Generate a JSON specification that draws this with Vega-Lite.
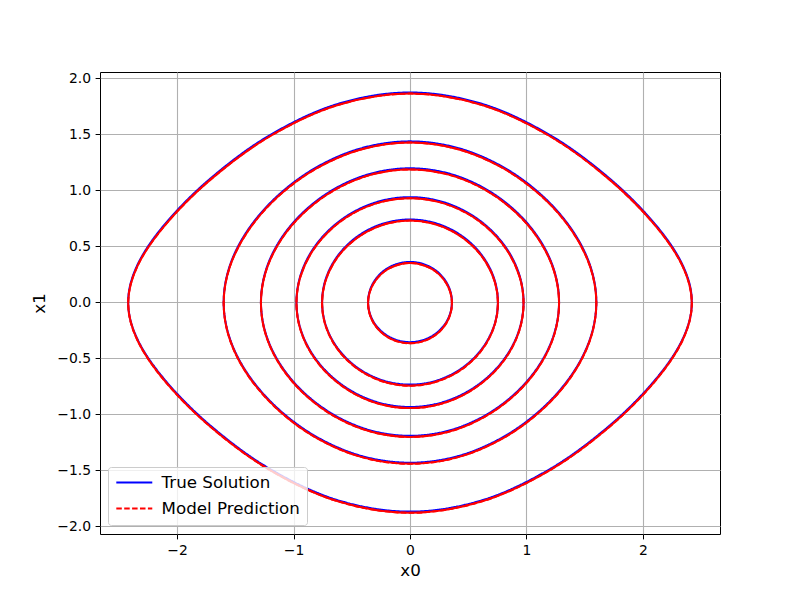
{
  "$schema": "https://vega.github.io/schema/vega-lite/v6.json",
  "width": 620,
  "height": 462,
  "autosize": {"type": "none"},
  "padding": {"left": 100, "top": 72, "right": 80, "bottom": 66},
  "background": "white",
  "config": {
    "font": "DejaVu Sans",
    "view": {"stroke": "black", "strokeWidth": 1},
    "axis": {
      "domain": false,
      "grid": true,
      "gridColor": "#b0b0b0",
      "gridWidth": 1.1,
      "tickColor": "black",
      "tickSize": 4.9,
      "tickWidth": 1,
      "labelColor": "black",
      "labelFontSize": 13.9,
      "labelFont": "DejaVu Sans",
      "labelPadding": 4.5,
      "titleFont": "DejaVu Sans",
      "titleFontSize": 16.7,
      "titleFontWeight": "normal",
      "titleColor": "black"
    }
  },
  "data": {
    "values": [
      {"o":1,"i":0,"x0":0.36,"t":0,"p":-0.01},
      {"o":1,"i":1,"x0":0.3477,"t":0.0922,"p":0.0822},
      {"o":1,"i":2,"x0":0.3118,"t":0.1783,"p":0.1683},
      {"o":1,"i":3,"x0":0.2546,"t":0.2525,"p":0.2425},
      {"o":1,"i":4,"x0":0.18,"t":0.3097,"p":0.2997},
      {"o":1,"i":5,"x0":0.0932,"t":0.3457,"p":0.3357},
      {"o":1,"i":6,"x0":0,"t":0.3581,"p":0.3481},
      {"o":1,"i":7,"x0":-0.0932,"t":0.3457,"p":0.3357},
      {"o":1,"i":8,"x0":-0.18,"t":0.3097,"p":0.2997},
      {"o":1,"i":9,"x0":-0.2546,"t":0.2525,"p":0.2425},
      {"o":1,"i":10,"x0":-0.3118,"t":0.1783,"p":0.1683},
      {"o":1,"i":11,"x0":-0.3477,"t":0.0922,"p":0.0822},
      {"o":1,"i":12,"x0":-0.36,"t":0,"p":-0.01},
      {"o":1,"i":13,"x0":-0.3477,"t":-0.0922,"p":-0.1022},
      {"o":1,"i":14,"x0":-0.3118,"t":-0.1783,"p":-0.1883},
      {"o":1,"i":15,"x0":-0.2546,"t":-0.2525,"p":-0.2625},
      {"o":1,"i":16,"x0":-0.18,"t":-0.3097,"p":-0.3197},
      {"o":1,"i":17,"x0":-0.0932,"t":-0.3457,"p":-0.3557},
      {"o":1,"i":18,"x0":0,"t":-0.3581,"p":-0.3681},
      {"o":1,"i":19,"x0":0.0932,"t":-0.3457,"p":-0.3557},
      {"o":1,"i":20,"x0":0.18,"t":-0.3097,"p":-0.3197},
      {"o":1,"i":21,"x0":0.2546,"t":-0.2525,"p":-0.2625},
      {"o":1,"i":22,"x0":0.3118,"t":-0.1783,"p":-0.1883},
      {"o":1,"i":23,"x0":0.3477,"t":-0.0922,"p":-0.1022},

      {"o":2,"i":0,"x0":0.755,"t":0,"p":-0.01},
      {"o":2,"i":1,"x0":0.7293,"t":0.1865,"p":0.1765},
      {"o":2,"i":2,"x0":0.6538,"t":0.3619,"p":0.3519},
      {"o":2,"i":3,"x0":0.5339,"t":0.5149,"p":0.5049},
      {"o":2,"i":4,"x0":0.3775,"t":0.6345,"p":0.6245},
      {"o":2,"i":5,"x0":0.1954,"t":0.7109,"p":0.7009},
      {"o":2,"i":6,"x0":0,"t":0.7372,"p":0.7272},
      {"o":2,"i":7,"x0":-0.1954,"t":0.7109,"p":0.7009},
      {"o":2,"i":8,"x0":-0.3775,"t":0.6345,"p":0.6245},
      {"o":2,"i":9,"x0":-0.5339,"t":0.5149,"p":0.5049},
      {"o":2,"i":10,"x0":-0.6538,"t":0.3619,"p":0.3519},
      {"o":2,"i":11,"x0":-0.7293,"t":0.1865,"p":0.1765},
      {"o":2,"i":12,"x0":-0.755,"t":0,"p":-0.01},
      {"o":2,"i":13,"x0":-0.7293,"t":-0.1865,"p":-0.1965},
      {"o":2,"i":14,"x0":-0.6538,"t":-0.3619,"p":-0.3719},
      {"o":2,"i":15,"x0":-0.5339,"t":-0.5149,"p":-0.5249},
      {"o":2,"i":16,"x0":-0.3775,"t":-0.6345,"p":-0.6445},
      {"o":2,"i":17,"x0":-0.1954,"t":-0.7109,"p":-0.7209},
      {"o":2,"i":18,"x0":0,"t":-0.7372,"p":-0.7472},
      {"o":2,"i":19,"x0":0.1954,"t":-0.7109,"p":-0.7209},
      {"o":2,"i":20,"x0":0.3775,"t":-0.6345,"p":-0.6445},
      {"o":2,"i":21,"x0":0.5339,"t":-0.5149,"p":-0.5249},
      {"o":2,"i":22,"x0":0.6538,"t":-0.3619,"p":-0.3719},
      {"o":2,"i":23,"x0":0.7293,"t":-0.1865,"p":-0.1965},

      {"o":3,"i":0,"x0":0.975,"t":0,"p":-0.01},
      {"o":3,"i":1,"x0":0.9418,"t":0.2333,"p":0.2233},
      {"o":3,"i":2,"x0":0.8444,"t":0.454,"p":0.444},
      {"o":3,"i":3,"x0":0.6894,"t":0.6488,"p":0.6388},
      {"o":3,"i":4,"x0":0.4875,"t":0.8029,"p":0.7929},
      {"o":3,"i":5,"x0":0.2523,"t":0.9024,"p":0.8924},
      {"o":3,"i":6,"x0":0,"t":0.9368,"p":0.9268},
      {"o":3,"i":7,"x0":-0.2523,"t":0.9024,"p":0.8924},
      {"o":3,"i":8,"x0":-0.4875,"t":0.8029,"p":0.7929},
      {"o":3,"i":9,"x0":-0.6894,"t":0.6488,"p":0.6388},
      {"o":3,"i":10,"x0":-0.8444,"t":0.454,"p":0.444},
      {"o":3,"i":11,"x0":-0.9418,"t":0.2333,"p":0.2233},
      {"o":3,"i":12,"x0":-0.975,"t":0,"p":-0.01},
      {"o":3,"i":13,"x0":-0.9418,"t":-0.2333,"p":-0.2433},
      {"o":3,"i":14,"x0":-0.8444,"t":-0.454,"p":-0.464},
      {"o":3,"i":15,"x0":-0.6894,"t":-0.6488,"p":-0.6588},
      {"o":3,"i":16,"x0":-0.4875,"t":-0.8029,"p":-0.8129},
      {"o":3,"i":17,"x0":-0.2523,"t":-0.9024,"p":-0.9124},
      {"o":3,"i":18,"x0":0,"t":-0.9368,"p":-0.9468},
      {"o":3,"i":19,"x0":0.2523,"t":-0.9024,"p":-0.9124},
      {"o":3,"i":20,"x0":0.4875,"t":-0.8029,"p":-0.8129},
      {"o":3,"i":21,"x0":0.6894,"t":-0.6488,"p":-0.6588},
      {"o":3,"i":22,"x0":0.8444,"t":-0.454,"p":-0.464},
      {"o":3,"i":23,"x0":0.9418,"t":-0.2333,"p":-0.2433},

      {"o":4,"i":0,"x0":1.28,"t":0,"p":-0.01},
      {"o":4,"i":1,"x0":1.2364,"t":0.2882,"p":0.2782},
      {"o":4,"i":2,"x0":1.1085,"t":0.5645,"p":0.5545},
      {"o":4,"i":3,"x0":0.9051,"t":0.8135,"p":0.8035},
      {"o":4,"i":4,"x0":0.64,"t":1.0153,"p":1.0053},
      {"o":4,"i":5,"x0":0.3313,"t":1.148,"p":1.138},
      {"o":4,"i":6,"x0":0,"t":1.1944,"p":1.1844},
      {"o":4,"i":7,"x0":-0.3313,"t":1.148,"p":1.138},
      {"o":4,"i":8,"x0":-0.64,"t":1.0153,"p":1.0053},
      {"o":4,"i":9,"x0":-0.9051,"t":0.8135,"p":0.8035},
      {"o":4,"i":10,"x0":-1.1085,"t":0.5645,"p":0.5545},
      {"o":4,"i":11,"x0":-1.2364,"t":0.2882,"p":0.2782},
      {"o":4,"i":12,"x0":-1.28,"t":0,"p":-0.01},
      {"o":4,"i":13,"x0":-1.2364,"t":-0.2882,"p":-0.2982},
      {"o":4,"i":14,"x0":-1.1085,"t":-0.5645,"p":-0.5745},
      {"o":4,"i":15,"x0":-0.9051,"t":-0.8135,"p":-0.8235},
      {"o":4,"i":16,"x0":-0.64,"t":-1.0153,"p":-1.0253},
      {"o":4,"i":17,"x0":-0.3313,"t":-1.148,"p":-1.158},
      {"o":4,"i":18,"x0":0,"t":-1.1944,"p":-1.2044},
      {"o":4,"i":19,"x0":0.3313,"t":-1.148,"p":-1.158},
      {"o":4,"i":20,"x0":0.64,"t":-1.0153,"p":-1.0253},
      {"o":4,"i":21,"x0":0.9051,"t":-0.8135,"p":-0.8235},
      {"o":4,"i":22,"x0":1.1085,"t":-0.5645,"p":-0.5745},
      {"o":4,"i":23,"x0":1.2364,"t":-0.2882,"p":-0.2982},

      {"o":5,"i":0,"x0":1.6,"t":0,"p":-0.01},
      {"o":5,"i":1,"x0":1.5454,"t":0.3303,"p":0.3203},
      {"o":5,"i":2,"x0":1.3856,"t":0.6532,"p":0.6432},
      {"o":5,"i":3,"x0":1.1314,"t":0.9536,"p":0.9436},
      {"o":5,"i":4,"x0":0.8,"t":1.2049,"p":1.1949},
      {"o":5,"i":5,"x0":0.4141,"t":1.3745,"p":1.3645},
      {"o":5,"i":6,"x0":0,"t":1.4347,"p":1.4247},
      {"o":5,"i":7,"x0":-0.4141,"t":1.3745,"p":1.3645},
      {"o":5,"i":8,"x0":-0.8,"t":1.2049,"p":1.1949},
      {"o":5,"i":9,"x0":-1.1314,"t":0.9536,"p":0.9436},
      {"o":5,"i":10,"x0":-1.3856,"t":0.6532,"p":0.6432},
      {"o":5,"i":11,"x0":-1.5454,"t":0.3303,"p":0.3203},
      {"o":5,"i":12,"x0":-1.6,"t":0,"p":-0.01},
      {"o":5,"i":13,"x0":-1.5454,"t":-0.3303,"p":-0.3403},
      {"o":5,"i":14,"x0":-1.3856,"t":-0.6532,"p":-0.6632},
      {"o":5,"i":15,"x0":-1.1314,"t":-0.9536,"p":-0.9636},
      {"o":5,"i":16,"x0":-0.8,"t":-1.2049,"p":-1.2149},
      {"o":5,"i":17,"x0":-0.4141,"t":-1.3745,"p":-1.3845},
      {"o":5,"i":18,"x0":0,"t":-1.4347,"p":-1.4447},
      {"o":5,"i":19,"x0":0.4141,"t":-1.3745,"p":-1.3845},
      {"o":5,"i":20,"x0":0.8,"t":-1.2049,"p":-1.2149},
      {"o":5,"i":21,"x0":1.1314,"t":-0.9536,"p":-0.9636},
      {"o":5,"i":22,"x0":1.3856,"t":-0.6532,"p":-0.6632},
      {"o":5,"i":23,"x0":1.5454,"t":-0.3303,"p":-0.3403},

      {"o":6,"i":0,"x0":2.42,"t":0,"p":-0.01},
      {"o":6,"i":1,"x0":2.3376,"t":0.3375,"p":0.3275},
      {"o":6,"i":2,"x0":2.0957,"t":0.7065,"p":0.6965},
      {"o":6,"i":3,"x0":1.7112,"t":1.1053,"p":1.0953},
      {"o":6,"i":4,"x0":1.21,"t":1.4858,"p":1.4758},
      {"o":6,"i":5,"x0":0.6263,"t":1.7669,"p":1.7569},
      {"o":6,"i":6,"x0":0,"t":1.8712,"p":1.8612},
      {"o":6,"i":7,"x0":-0.6263,"t":1.7669,"p":1.7569},
      {"o":6,"i":8,"x0":-1.21,"t":1.4858,"p":1.4758},
      {"o":6,"i":9,"x0":-1.7112,"t":1.1053,"p":1.0953},
      {"o":6,"i":10,"x0":-2.0957,"t":0.7065,"p":0.6965},
      {"o":6,"i":11,"x0":-2.3376,"t":0.3375,"p":0.3275},
      {"o":6,"i":12,"x0":-2.42,"t":0,"p":-0.01},
      {"o":6,"i":13,"x0":-2.3376,"t":-0.3375,"p":-0.3475},
      {"o":6,"i":14,"x0":-2.0957,"t":-0.7065,"p":-0.7165},
      {"o":6,"i":15,"x0":-1.7112,"t":-1.1053,"p":-1.1153},
      {"o":6,"i":16,"x0":-1.21,"t":-1.4858,"p":-1.4958},
      {"o":6,"i":17,"x0":-0.6263,"t":-1.7669,"p":-1.7769},
      {"o":6,"i":18,"x0":0,"t":-1.8712,"p":-1.8812},
      {"o":6,"i":19,"x0":0.6263,"t":-1.7669,"p":-1.7769},
      {"o":6,"i":20,"x0":1.21,"t":-1.4858,"p":-1.4958},
      {"o":6,"i":21,"x0":1.7112,"t":-1.1053,"p":-1.1153},
      {"o":6,"i":22,"x0":2.0957,"t":-0.7065,"p":-0.7165},
      {"o":6,"i":23,"x0":2.3376,"t":-0.3375,"p":-0.3475}
    ]
  },
  "encoding": {
    "x": {
      "field": "x0", "type": "quantitative",
      "scale": {"domain": [-2.662, 2.662], "nice": false, "zero": false},
      "axis": {"title": "x0", "values": [-2, -1, 0, 1, 2], "format": "d", "titlePadding": 5}
    },
    "detail": {"field": "o"},
    "order": {"field": "i", "type": "quantitative"}
  },
  "layer": [
    {
      "mark": {"type": "line", "interpolate": "cardinal-closed", "strokeWidth": 2, "clip": true},
      "encoding": {
        "y": {
          "field": "t", "type": "quantitative",
          "scale": {"domain": [-2.071, 2.054], "nice": false, "zero": false},
          "axis": {"title": "x1", "values": [-2, -1.5, -1, -0.5, 0, 0.5, 1, 1.5, 2], "format": ".1f", "titlePadding": 8}
        },
        "color": {
          "datum": "True Solution",
          "type": "nominal",
          "scale": {"domain": ["True Solution", "Model Prediction"], "range": ["blue", "red"]},
          "legend": {
            "title": null,
            "orient": "none",
            "legendX": 8,
            "legendY": 395,
            "symbolType": "M-1,0L4,0",
            "symbolSize": 207,
            "symbolStrokeWidth": 2,
            "labelFontSize": 16.7,
            "labelFont": "DejaVu Sans",
            "labelColor": "black",
            "rowPadding": 8,
            "padding": 7,
            "strokeColor": "#cccccc",
            "fillColor": "rgba(255,255,255,0.8)",
            "cornerRadius": 3,
            "labelOffset": 29.6
          }
        },
        "strokeDash": {
          "datum": "True Solution",
          "type": "nominal",
          "scale": {"domain": ["True Solution", "Model Prediction"], "range": [[1, 0], [5.5, 2.4]]},
          "legend": null
        }
      }
    },
    {
      "mark": {"type": "line", "interpolate": "cardinal-closed", "strokeWidth": 2, "color": "red", "clip": true},
      "encoding": {
        "y": {"field": "p", "type": "quantitative"}
      }
    },
    {
      "mark": {"type": "line", "interpolate": "cardinal-closed", "strokeWidth": 2, "clip": true},
      "encoding": {
        "y": {"field": "p", "type": "quantitative"},
        "color": {"datum": "Model Prediction", "type": "nominal"},
        "strokeDash": {"datum": "Model Prediction", "type": "nominal"}
      }
    }
  ]
}
